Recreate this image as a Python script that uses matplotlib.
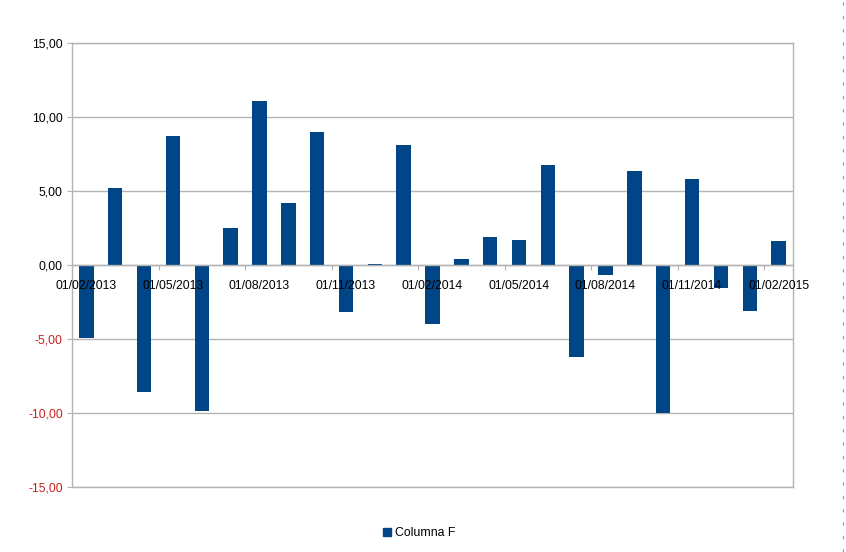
import matplotlib
matplotlib.use('Agg')
import matplotlib.pyplot as plt
from matplotlib.lines import Line2D
from matplotlib.patches import Patch

plt.rcParams['font.family'] = ['Liberation Sans', 'DejaVu Sans']

# monthly values, 01/02/2013 .. 01/02/2015
months = ['01/02/2013', '01/03/2013', '01/04/2013', '01/05/2013', '01/06/2013',
          '01/07/2013', '01/08/2013', '01/09/2013', '01/10/2013', '01/11/2013',
          '01/12/2013', '01/01/2014', '01/02/2014', '01/03/2014', '01/04/2014',
          '01/05/2014', '01/06/2014', '01/07/2014', '01/08/2014', '01/09/2014',
          '01/10/2014', '01/11/2014', '01/12/2014', '01/01/2015', '01/02/2015']
values = [-4.95, 5.20, -8.58, 8.72, -9.86, 2.50, 11.08, 4.19, 8.99, -3.18,
          0.07, 8.11, -3.99, 0.40, 1.89, 1.69, 6.76, -6.22, -0.68, 6.35,
          -10.00, 5.81, -1.55, -3.11, 1.62]
yticks = [-15, -10, -5, 0, 5, 10, 15]
series_name = 'Columna F'

blue = '#004586'
grid = '#b3b3b3'
fs = 8.8

fig = plt.figure(figsize=(8.46, 5.52), dpi=100)
ax = fig.add_axes([72 / 846, 1 - 487 / 552, (793 - 72) / 846, (487 - 43) / 552])

x = list(range(len(values)))
ax.bar(x, values, width=0.5, color=blue, zorder=3)

ax.set_xlim(-0.5, len(values) - 0.5)
ax.set_ylim(-15, 15)
ax.set_yticks(yticks)
ax.set_yticklabels([('%.2f' % v).replace('.', ',') for v in yticks])
for lab, v in zip(ax.get_yticklabels(), yticks):
    lab.set_color('#c9211e' if v < 0 else 'black')
ax.yaxis.grid(True, color=grid, linewidth=1, zorder=0)
ax.tick_params(axis='y', length=3.6, color=grid, labelsize=fs, pad=3)

# x axis drawn on the zero line
ax.spines['bottom'].set_position(('data', 0))
for s in ['left', 'right', 'top', 'bottom']:
    ax.spines[s].set_color(grid)
    ax.spines[s].set_linewidth(1)
ax.spines['bottom'].set_zorder(4)
# bottom frame line at -15
ax.plot([0, 1], [-15, -15], color=grid, linewidth=1, transform=ax.get_yaxis_transform(),
        clip_on=False, zorder=2)

bounds = [i - 0.5 for i in range(0, len(values) + 1, 3)]
ax.set_xticks(bounds)
ax.set_xticklabels([''] * len(bounds))
ax.set_xticks(list(range(0, len(values), 3)), minor=True)
ax.set_xticklabels([months[i] for i in range(0, len(values), 3)], minor=True)
ax.tick_params(axis='x', which='major', length=3.6, color=grid, direction='out')
ax.tick_params(axis='x', which='minor', length=0, labelsize=fs, pad=11)
ax.xaxis.set_zorder(5)

# dashed marks at right page edge
fig.add_artist(Line2D([843 / 846, 843 / 846], [0, 1], color='#999999',
                      linewidth=0.8, linestyle=(0, (3, 9))))

handle = Patch(facecolor=blue, edgecolor=blue)
fig.legend([handle], [series_name], loc='center', bbox_to_anchor=(419 / 846, 1 - 533 / 552),
           frameon=False, fontsize=fs, handlelength=0.65, handleheight=0.65, handletextpad=0.3)

fig.savefig('out.png', dpi=100, facecolor='white')
